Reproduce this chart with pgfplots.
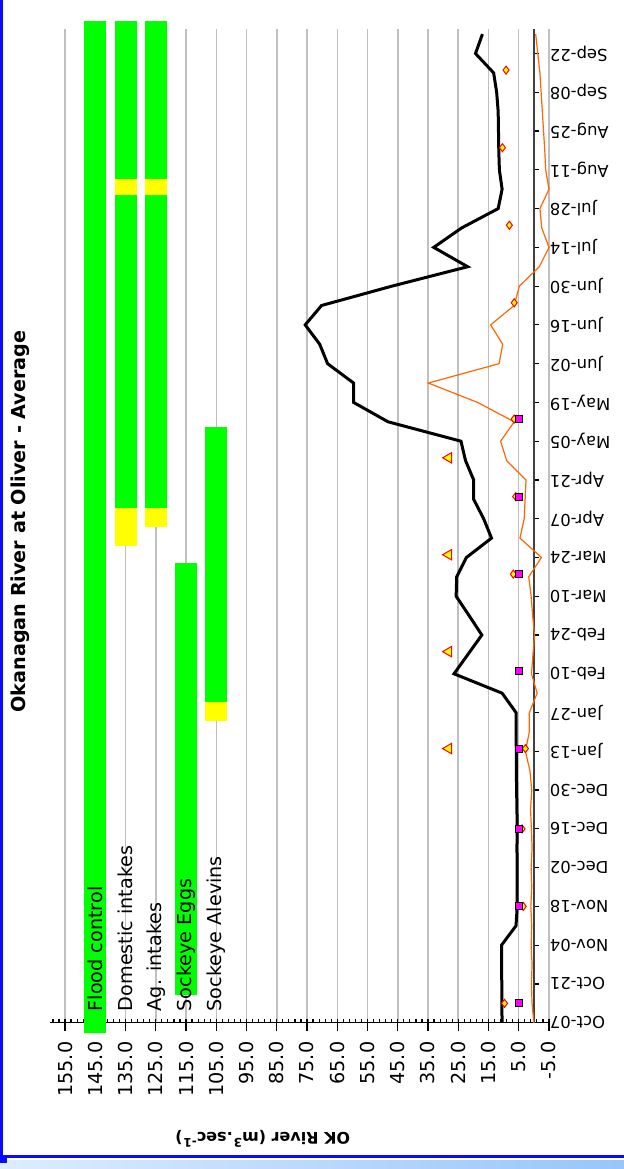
\documentclass[border=0pt]{standalone}
\usepackage{pgfplots}
\pgfplotsset{compat=1.18}
\usepackage{pgfplotstable}
\usepackage{fontspec}
\setmainfont{DejaVu Sans}

\definecolor{barGreen}{RGB}{0,255,0}
\definecolor{barYellow}{RGB}{255,255,0}
\definecolor{flowOrange}{RGB}{255,102,0}
\definecolor{gridGray}{RGB}{192,192,192}
\definecolor{frameBlue}{RGB}{10,10,255}
\definecolor{sqPink}{RGB}{255,0,255}

% weekly values, day counted from Oct-07
\pgfplotstableread{
day flow
0 10.5
7 10.6
14 10.6
21 10.7
28 10.7
35 5.9
42 5.5
49 5.5
56 5.5
63 5.6
70 5.5
77 5.6
84 5.7
91 5.8
98 5.8
105 5.9
112 5.9
119 10.5
126 26.4
133 21.8
140 17.2
147 21.4
154 25.7
161 25.5
168 22.3
175 14.0
182 16.6
189 19.9
196 19.9
203 22.6
210 24.1
217 48.2
224 59.6
231 59.6
238 68.2
245 70.8
252 75.6
259 70.2
266 46.9
273 21.9
280 33.1
287 23.9
294 11.8
301 10.5
308 11.4
315 11.6
322 11.7
329 11.8
336 12.3
343 13.3
350 19.3
357 17.0
}\avgflow

\pgfplotstableread{
day flow
0 0.0
7 0.6
14 0.8
21 0.6
28 0.9
35 0.7
42 1.0
49 0.7
56 0.9
63 0.6
70 0.8
77 1.1
84 0.7
91 1.3
98 2.8
105 1.5
112 1.5
119 -1.1
126 0.8
133 0.3
140 -0.2
147 0.4
154 0.9
161 1.7
168 -2.5
175 4.6
182 3.2
189 2.9
196 2.6
203 9.0
210 11.0
217 6.5
224 18.6
231 34.9
238 11.5
245 10.3
252 14.3
259 6.5
266 4.8
273 -1.8
280 -5.0
287 -2.6
294 -2.0
301 -5.0
308 -3.9
315 -3.6
322 -3.2
329 -2.8
336 -2.4
343 -2.0
350 -1.3
357 -0.6
}\sideflow

\begin{document}
\begin{tikzpicture}
\useasboundingbox (0,0) rectangle (312pt,584.5pt);
% chart frame
\shade[left color={rgb,255:red,222;green,236;blue,255}, right color={rgb,255:red,150;green,198;blue,250}] (0,0) rectangle (312pt,4.2pt);
\fill[frameBlue] (0,5.6pt) rectangle (312pt,7pt);
\fill[frameBlue] (0,5.6pt) rectangle (1.6pt,584.5pt);
\fill[frameBlue] (0,3pt) rectangle (3.5pt,5.6pt);

\begin{axis}[
    at={(24.95pt,73.15pt)}, anchor=south west,
    scale only axis, width=249.55pt, height=497.05pt,
    x dir=reverse,
    xmin=-5, xmax=160, ymin=0, ymax=359,
    clip=false,
    axis x line*=bottom, axis y line*=middle,
    hide obscured x ticks=false, hide obscured y ticks=false,
    x axis line style={black, line width=0.6pt},
    y axis line style={black!75, line width=0.7pt},
    xtick={-5,5,...,155},
    minor xtick={-3,-1,...,159},
    xmajorgrids,
    major grid style={gridGray, line width=0.75pt},
    tick align=outside,
    major tick length=6pt, minor tick length=2pt,
    tick style={black, line width=0.6pt},
    major x tick style={yshift=2pt},
    minor x tick style={yshift=2pt},
    major y tick style={/pgfplots/major tick length=2.35pt},
    xticklabel style={rotate=90, anchor=east, font=\fontsize{9.6}{11}\selectfont,
        /pgf/number format/.cd, fixed, fixed zerofill, precision=1, assume math mode=true},
    ytick={0,14,...,350},
    yticklabels={Oct-07,Oct-21,Nov-04,Nov-18,Dec-02,Dec-16,Dec-30,Jan-13,Jan-27,Feb-10,Feb-24,Mar-10,Mar-24,Apr-07,Apr-21,May-05,May-19,Jun-02,Jun-16,Jun-30,Jul-14,Jul-28,Aug-11,Aug-25,Sep-08,Sep-22},
    yticklabel style={xshift=10.5pt, rotate=180, anchor=east, font=\fontsize{8.2}{10}\selectfont},
]
% habitat and use bars
\addplot[barGreen, line width=11pt] coordinates {(145,-3.8) (145,361.9)};
\addplot[barGreen, line width=11pt] coordinates {(135,304.7) (135,361.9)};
\addplot[barYellow, line width=11pt] coordinates {(135,298.9) (135,304.7)};
\addplot[barGreen, line width=11pt] coordinates {(135,185.9) (135,298.9)};
\addplot[barYellow, line width=11pt] coordinates {(135,172.0) (135,185.9)};
\addplot[barGreen, line width=11pt] coordinates {(125,304.7) (125,361.9)};
\addplot[barYellow, line width=11pt] coordinates {(125,298.9) (125,304.7)};
\addplot[barGreen, line width=11pt] coordinates {(125,185.9) (125,298.9)};
\addplot[barYellow, line width=11pt] coordinates {(125,179.0) (125,185.9)};
\addplot[barGreen, line width=11pt] coordinates {(115,10.0) (115,166.0)};
\addplot[barGreen, line width=11pt] coordinates {(105,115.8) (105,215.1)};
\addplot[barYellow, line width=11pt] coordinates {(105,108.9) (105,115.8)};

% flows
\addplot[black, line width=1.5pt, mark=none] table[x=flow, y=day] {\avgflow};
\addplot[flowOrange, line width=0.6pt, mark=none] table[x=flow, y=day] {\sideflow};

% point observations
\addplot[only marks, mark=diamond*, mark size=2pt, mark options={fill=barYellow, draw=red, line width=0.5pt}]
    coordinates {(9.7,7) (3.5,42) (3.9,70) (2.8,99) (6.8,162) (6.0,190) (6.5,218) (6.5,260) (8.1,288) (10.4,316) (9.2,344)};
\addplot[only marks, mark=square*, mark size=1.75pt, mark options={fill=sqPink, draw=black, line width=0.5pt}]
    coordinates {(5,7) (5,42) (5,70) (5,99) (5,127) (5,162) (5,190) (5,218)};
\addplot[only marks, mark=triangle*, mark size=3pt, mark options={rotate=90, fill=barYellow, draw=red, line width=0.5pt}]
    coordinates {(28.2,99) (28.2,134) (28.2,169) (28.2,204)};

% bar labels
\begin{scope}[every node/.style={rotate=90, anchor=west, inner sep=0pt, font=\fontsize{9.6}{11}\selectfont}]
\node at (axis cs:145,4) {Flood control};
\node at (axis cs:135,4) {Domestic intakes};
\node at (axis cs:125,4) {Ag. intakes};
\node at (axis cs:115,4) {Sockeye Eggs};
\node at (axis cs:105,4) {Sockeye Alevins};
\end{scope}
\end{axis}

\node[rotate=90, font=\bfseries\fontsize{9.6}{11}\selectfont] at (10.3pt,323.75pt) {Okanagan River at Oliver - Average};
\node[rotate=180, font=\bfseries\fontsize{8}{10}\selectfont] at (131.35pt,15pt) {OK River (m\textsuperscript{3}.sec\textsuperscript{-1})};
\end{tikzpicture}
\end{document}
